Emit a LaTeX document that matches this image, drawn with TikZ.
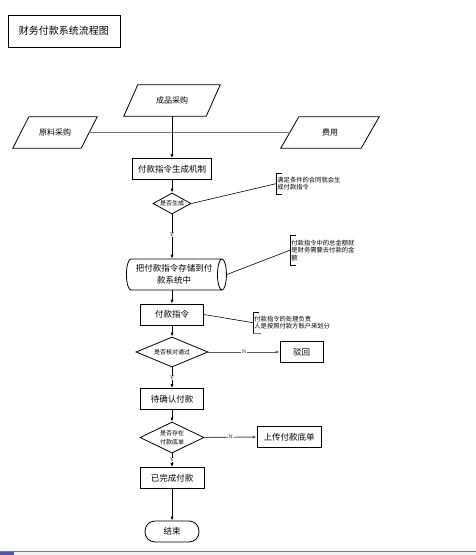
\documentclass[tikz,border=0pt]{standalone}
\usepackage{fontspec}
\newfontfamily\cjk{Noto Sans CJK SC}
\usetikzlibrary{shapes.geometric,arrows.meta}
\tikzset{
  box/.style={draw=black,line width=0.8pt,rectangle,minimum height=21pt,inner sep=1pt,font=\cjk\fontsize{8.5}{10}\selectfont},
  pgram/.style={rectangle,inner sep=0pt,minimum height=31pt,font=\cjk\fontsize{8}{10}\selectfont},
  dia/.style={draw=black,line width=0.8pt,diamond,inner sep=0pt},
  diatext/.style={inner sep=0pt,align=center,font=\cjk\fontsize{6}{8}\selectfont},
  note/.style={inner sep=1.2pt,align=left,anchor=north west,font=\cjk\fontsize{6.3}{7.6}\selectfont},
  flow/.style={line width=0.8pt,-{Latex[length=4pt,width=3.2pt]}},
  nflow/.style={line width=0.9pt,draw=black!65,-{Latex[length=4pt,width=3.2pt]}},
  callout/.style={line width=0.6pt,draw=black},
  yn/.style={fill=white,inner sep=0.3pt,font=\fontsize{5}{5}\selectfont},
}
\begin{document}
\begin{tikzpicture}[x=1pt,y=-1pt]
\useasboundingbox (0,0) rectangle (476,555);
% bottom strip
\fill[black!6] (0,552) rectangle (476,555);
\fill[blue!35!gray] (0,552) rectangle (14,555);
\draw[line width=1.2pt,color={rgb,255:red,85;green,125;blue,185}] (0,551.8) -- (476,551.8);

% title
\node[draw=black,line width=0.8pt,minimum width=112pt,minimum height=32pt,inner sep=0pt,font=\cjk\fontsize{10}{12}\selectfont] (title) at (64,31) {财务付款系统流程图};

% parallelograms
\node[pgram,minimum width=82pt] (cp) at (172,100.5) {成品采购};
\draw[line width=0.8pt] ([xshift=7pt]cp.north west) -- ([xshift=7pt]cp.north east) -- ([xshift=-7pt]cp.south east) -- ([xshift=-7pt]cp.south west) -- cycle;
\node[pgram,minimum width=68pt] (yl) at (55,132.5) {原料采购};
\draw[line width=0.8pt] ([xshift=8pt]yl.north west) -- ([xshift=8pt]yl.north east) -- ([xshift=-8pt]yl.south east) -- ([xshift=-8pt]yl.south west) -- cycle;
\node[pgram,minimum width=80pt] (fy) at (330,132.5) {费用};
\draw[line width=0.8pt] ([xshift=9pt]fy.north west) -- ([xshift=9pt]fy.north east) -- ([xshift=-9pt]fy.south east) -- ([xshift=-9pt]fy.south west) -- cycle;
\draw[line width=1.5pt,draw=black!55] (yl.east) -- (fy.west);

% main flow
\node[box,minimum width=79pt] (b1) at (172,169) {付款指令生成机制};
\node[dia,minimum width=38pt,minimum height=21pt] (d1) at (172,203.5) {};
\node[diatext] (d1t) at (d1) {是否生成};
\node[draw=black,line width=0.8pt,cylinder,shape aspect=0.45,minimum width=31pt,minimum height=100pt,inner sep=0pt,align=center,font=\cjk\fontsize{8.5}{12}\selectfont] (cyl) at (174,274.5) {把付款指令存储到付\\款系统中};
\node[box,minimum width=63pt] (b2) at (172,314.5) {付款指令};
\node[dia,minimum width=72pt,minimum height=30pt] (d2) at (172,352) {};
\node[diatext] (d2t) at (d2) {是否核对通过};
\node[box,minimum width=43pt] (bh) at (301.5,352) {驳回};
\node[box,minimum width=63pt] (b3) at (172,399) {待确认付款};
\node[dia,minimum width=64pt,minimum height=31pt] (d3) at (172,437.5) {};
\node[diatext,font=\cjk\fontsize{6}{9}\selectfont] (d3t) at (d3) {是否存在\\付款底单};
\node[box,minimum width=64pt] (b4) at (289,437) {上传付款底单};
\node[box,minimum width=64pt] (b5) at (172,478) {已完成付款};
\node[draw=black,line width=0.8pt,rounded corners=10pt,minimum width=54pt,minimum height=21pt,inner sep=0pt,font=\cjk\fontsize{8.5}{10}\selectfont] (end) at (172,531.5) {结束};

% annotations
\node[note,minimum height=21pt] (a1) at (276,173) {满足条件的合同就会生\\成付款指令};
\draw[callout] ([xshift=6pt]a1.north west) -- (a1.north west) -- (a1.south west) -- ([xshift=6pt]a1.south west);
\node[note,minimum height=30pt] (a2) at (290,235) {付款指令中的总金额就\\是财务需要去付款的金\\额};
\draw[callout] ([xshift=6pt]a2.north west) -- (a2.north west) -- (a2.south west) -- ([xshift=6pt]a2.south west);
\node[note,minimum height=21pt] (a3) at (253,312) {付款指令的处理负责\\人是按照付款方账户来划分};
\draw[callout] ([xshift=6pt]a3.north west) -- (a3.north west) -- (a3.south west);
\draw[line width=1.2pt,draw=black!55] (a3.south west) -- ([xshift=8pt]a3.south west);

\draw[callout] (d1.east) -- (a1.west);
\draw[callout] (cyl.east) -- (a2.west);
\draw[callout] (b2.east) -- (a3.west);

% connectors
\draw[flow] (cp.south) -- (b1.north);
\draw[flow] (b1.south) -- (d1.north);
\draw[flow] (d1.south) -- node[yn,pos=0.47] (y1) {Y} (d1.south |- cyl.north);
\draw[flow] (d1.south |- cyl.south) -- (b2.north);
\draw[flow] (b2.south) -- (d2.north);
\draw[nflow] (d2.east) -- node[yn] (n1) {N} (bh.west);
\draw[flow] (d2.south) -- node[yn] (y2) {Y} (b3.north);
\draw[flow] (b3.south) -- (d3.north);
\draw[nflow] (d3.east) -- node[yn] (n2) {N} (b4.west);
\draw[flow] (d3.south) -- node[yn] (y3) {Y} (b5.north);
\draw[flow] (b5.south) -- (end.north);
\end{tikzpicture}
\end{document}
